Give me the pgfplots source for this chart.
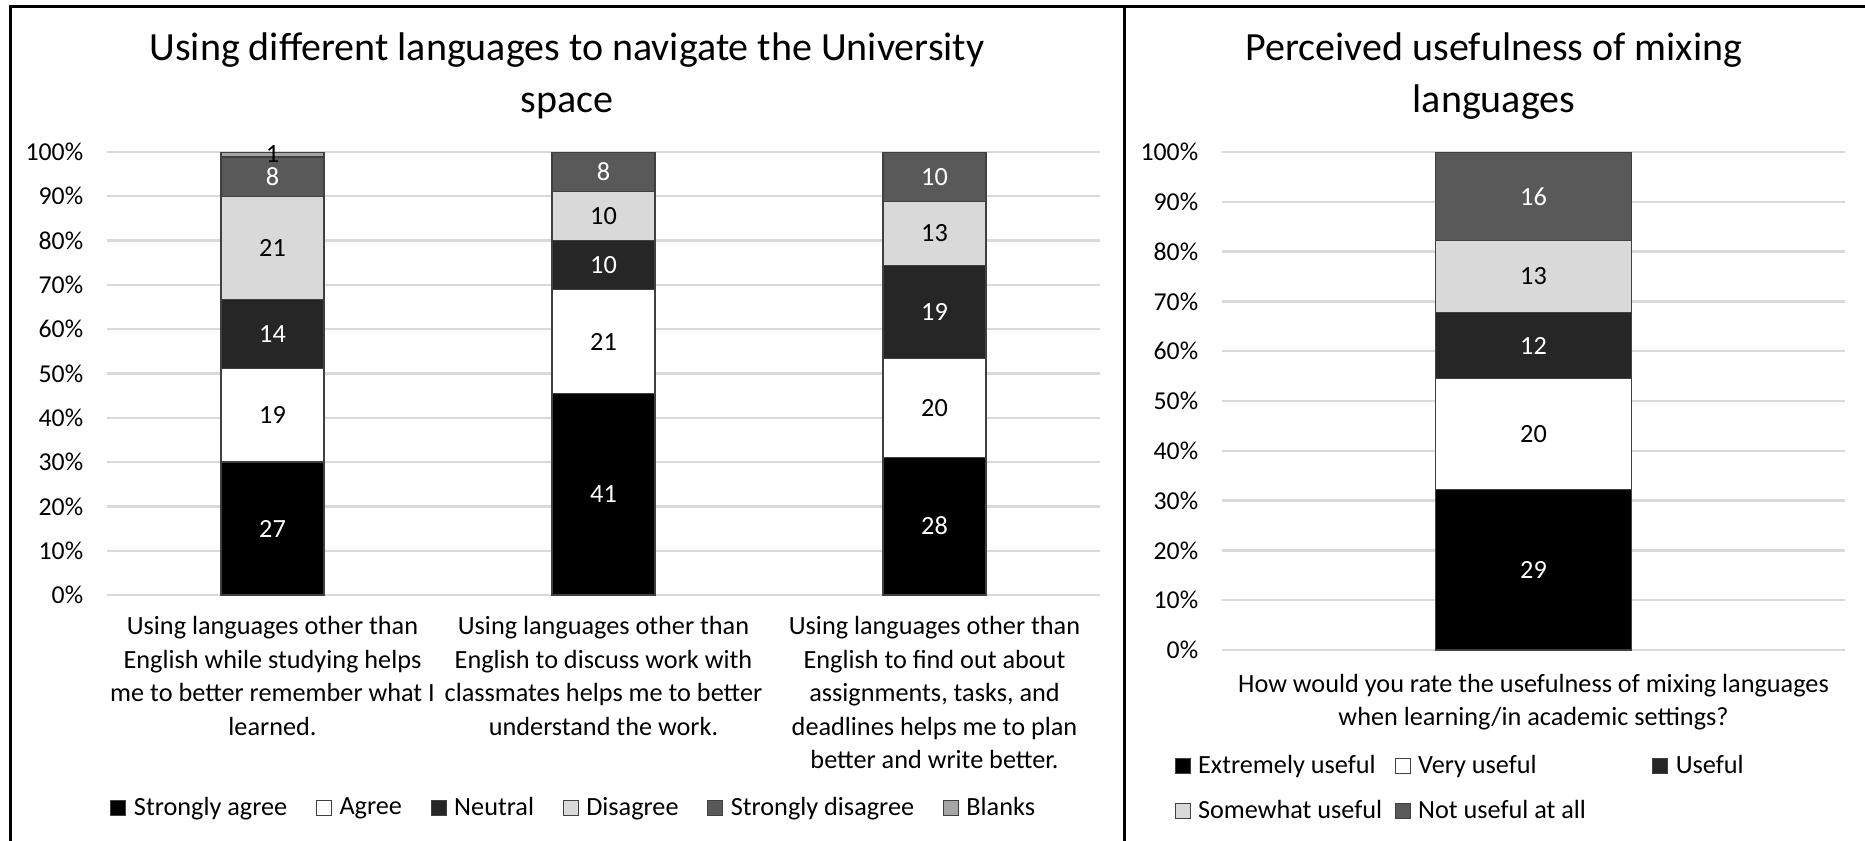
\documentclass[border=0pt]{standalone}
\usepackage{pgfplots}
\pgfplotsset{compat=1.18}
\usepackage{pgfplotstable}
\usepackage{fontspec}
\setmainfont{Carlito}

\definecolor{cSA}{HTML}{000000}
\definecolor{cAG}{HTML}{FFFFFF}
\definecolor{cNE}{HTML}{262626}
\definecolor{cDI}{HTML}{D9D9D9}
\definecolor{cSD}{HTML}{595959}
\definecolor{cBL}{HTML}{A6A6A6}
\definecolor{gridc}{HTML}{D9D9D9}
\definecolor{edgec}{HTML}{404040}

% Left chart: counts (total 90 respondents)
\pgfplotstableread{
x v
0 27
1 41
2 28
}\tSA
\pgfplotstableread{
x v
0 19
1 21
2 20
}\tAG
\pgfplotstableread{
x v
0 14
1 10
2 19
}\tNE
\pgfplotstableread{
x v
0 21
1 10
2 13
}\tDI
\pgfplotstableread{
x v
0 8
1 8
2 10
}\tSD
\pgfplotstableread{
x v
0 1
}\tBL

% Right chart
\pgfplotstableread{
x v
0 29
}\tEU
\pgfplotstableread{
x v
0 20
}\tVU
\pgfplotstableread{
x v
0 12
}\tUS
\pgfplotstableread{
x v
0 13
}\tSU
\pgfplotstableread{
x v
0 16
}\tNU

\pgfplotsset{
  panel/.style={
    ybar stacked, scale only axis,
    ymin=0, ymax=90,
    ytick={0,9,18,27,36,45,54,63,72,81,90},
    yticklabels={0\%,10\%,20\%,30\%,40\%,50\%,60\%,70\%,80\%,90\%,100\%},
    ymajorgrids, grid style={gridc, line width=0.9pt},
    axis line style={draw=none}, major tick length=0pt,
    yticklabel style={font=\fontsize{10.3}{12}\selectfont, xshift=-6pt},
    /pgf/number format/assume math mode=true,
    point meta=explicit,
    nodes near coords,
    every node near coord/.append style={anchor=center, font=\fontsize{10.5}{12}\selectfont},
    legend image code/.code={\draw[#1, line width=0.4pt] (0pt,-3pt) rectangle (6pt,3pt);},
    legend style={draw=none, fill=none, inner sep=0pt, font=\fontsize{10.5}{12.6}\selectfont,
      nodes={inner sep=1.5pt}},
    legend cell align=left,
  },
  seg/.style={fill=#1, draw=edgec, line width=0.5pt},
}

\begin{document}
\begin{tikzpicture}
\useasboundingbox (0,0) rectangle (746pt,-336.4pt);
\fill[white] (0,0) rectangle (746pt,-336.4pt);

% titles
\node[align=center, font=\fontsize{16}{20.6}\selectfont] at (226.8pt,-30.4pt)
  {Using different languages to navigate the University\\space};
\node[align=center, font=\fontsize{16}{20.6}\selectfont] at (597.6pt,-30.4pt)
  {Perceived usefulness of mixing\\languages};

% left chart
\begin{axis}[panel,
  at={(42.8pt,-238pt)}, anchor=south west,
  width=397.2pt, height=177.2pt,
  xmin=-0.5, xmax=2.5, bar width=41.2pt,
  xtick={0,1,2},
  xticklabels={{Using languages other than\\English while studying helps\\me to better remember what I\\learned.},
               {Using languages other than\\English to discuss work with\\classmates helps me to better\\understand the work.},
               {Using languages other than\\English to find out about\\assignments, tasks, and\\deadlines helps me to plan\\better and write better.}},
  xticklabel style={align=center, font=\fontsize{10.5}{13.4}\selectfont, yshift=-5pt},
  legend columns=6,
  legend style={at={(0.003,-0.4808)}, anchor=west,
    /tikz/every odd column/.append style={column sep=1.5pt},
    /tikz/every even column/.append style={column sep=10pt}},
]
\addplot+[seg=cSA, every node near coord/.append style={text=white}] table[x=x, y=v, meta=v] {\tSA};
\addplot+[seg=cAG, every node near coord/.append style={text=black}] table[x=x, y=v, meta=v] {\tAG};
\addplot+[seg=cNE, every node near coord/.append style={text=white}] table[x=x, y=v, meta=v] {\tNE};
\addplot+[seg=cDI, every node near coord/.append style={text=black}] table[x=x, y=v, meta=v] {\tDI};
\addplot+[seg=cSD, every node near coord/.append style={text=white}] table[x=x, y=v, meta=v] {\tSD};
\addplot+[seg=cBL, every node near coord/.append style={text=black}] table[x=x, y=v, meta=v] {\tBL};
\legend{Strongly agree, Agree, Neutral, Disagree, Strongly disagree, Blanks}
\end{axis}

% right chart
\begin{axis}[panel,
  at={(488.8pt,-260pt)}, anchor=south west,
  width=249.2pt, height=199.2pt,
  xmin=-0.5, xmax=0.5, bar width=78.4pt,
  xtick=\empty,
  xlabel={How would you rate the usefulness of mixing languages\\when learning/in academic settings?},
  xlabel style={at={(axis description cs:0.5,0)}, anchor=north, yshift=-6pt,
    align=center, font=\fontsize{10.5}{13.4}\selectfont},
  legend columns=3,
  legend style={at={(-0.077,-0.203)}, anchor=north west,
    /tikz/column 1/.style={column sep=1.5pt},
    /tikz/column 3/.style={column sep=1.5pt},
    /tikz/column 5/.style={column sep=1.5pt},
    /tikz/column 2/.style={column sep=3.5pt},
    /tikz/column 4/.style={column sep=25pt},
    row sep=6pt},
]
\addplot+[seg=cSA, every node near coord/.append style={text=white}] table[x=x, y=v, meta=v] {\tEU};
\addplot+[seg=cAG, every node near coord/.append style={text=black}] table[x=x, y=v, meta=v] {\tVU};
\addplot+[seg=cNE, every node near coord/.append style={text=white}] table[x=x, y=v, meta=v] {\tUS};
\addplot+[seg=cDI, every node near coord/.append style={text=black}] table[x=x, y=v, meta=v] {\tSU};
\addplot+[seg=cSD, every node near coord/.append style={text=white}] table[x=x, y=v, meta=v] {\tNU};
\legend{Extremely useful, Very useful, Useful, Somewhat useful, Not useful at all}
\end{axis}

% frame
\draw[line width=1.2pt] (4pt,-336.4pt) -- (4pt,-2.8pt) -- (746pt,-2.8pt);
\draw[line width=1.2pt] (449.6pt,-2.8pt) -- (449.6pt,-336.4pt);
\end{tikzpicture}
\end{document}
